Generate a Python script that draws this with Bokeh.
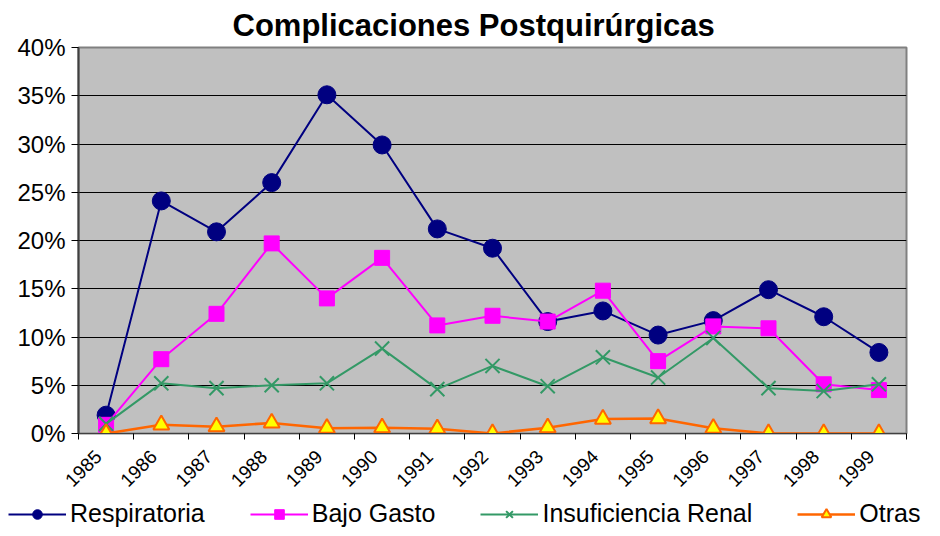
import math
from bokeh.plotting import figure
from bokeh.layouts import column
from bokeh.models import (Range1d, FixedTicker, PrintfTickFormatter, Legend, LegendItem, Title,
                          CustomJSTickFormatter)
from bokeh.embed import file_html
from bokeh.resources import INLINE

years = list(range(1985, 2000))
respiratoria = [1.9, 24.1, 20.9, 26.0, 35.1, 29.9, 21.2, 19.2, 11.6, 12.7, 10.2, 11.7, 14.9, 12.1, 8.4]
bajo_gasto = [0.9, 7.7, 12.4, 19.7, 14.0, 18.2, 11.2, 12.2, 11.6, 14.8, 7.5, 11.1, 10.9, 5.1, 4.5]
insuf_renal = [1.0, 5.2, 4.7, 5.0, 5.2, 8.8, 4.6, 7.0, 4.9, 7.9, 5.8, 9.9, 4.7, 4.4, 5.1]
otras = [0.0, 0.9, 0.7, 1.1, 0.55, 0.6, 0.5, 0.0, 0.6, 1.5, 1.55, 0.55, 0.0, 0.0, 0.0]
y_ticks = [0, 5, 10, 15, 20, 25, 30, 35, 40]
series_names = ["Respiratoria", "Bajo Gasto", "Insuficiencia Renal", "Otras"]

FONT = "Liberation Sans"

styles = [
    dict(line_color="#000080", line_width=2, marker="circle", size=18,
         fill_color="#000080", mline="#000080", mwidth=1),
    dict(line_color="#FF00FF", line_width=2, marker="square", size=15,
         fill_color="#FF00FF", mline="#FF00FF", mwidth=1),
    dict(line_color="#339966", line_width=2, marker="x", size=20,
         fill_color=None, mline="#339966", mwidth=2),
    dict(line_color="#FF6600", line_width=2.5, marker="triangle", size=16,
         fill_color="#FFFF00", mline="#FF6600", mwidth=2),
]
all_series = [respiratoria, bajo_gasto, insuf_renal, otras]

p = figure(width=924, height=495, output_backend="svg", toolbar_location=None,
           x_range=Range1d(years[0] - 0.5, years[-1] + 0.5), y_range=Range1d(0, 40),
           min_border_left=78, min_border_right=18, min_border_top=42, min_border_bottom=62)
p.frame_align = False

p.title = Title(text="Complicaciones Postquirúrgicas", align="left", offset=154,
                text_font=FONT, text_font_size="31px", text_font_style="bold",
                text_color="black", standoff=10)

p.background_fill_color = "#C0C0C0"
p.border_fill_color = "white"
p.outline_line_color = "#808080"
p.outline_line_width = 2

p.xgrid.grid_line_color = None
p.ygrid.grid_line_color = "black"
p.ygrid.grid_line_width = 1

# y axis
p.yaxis.ticker = FixedTicker(ticks=y_ticks)
p.yaxis.formatter = PrintfTickFormatter(format="%d%%")
p.yaxis.major_label_text_font = FONT
p.yaxis.major_label_text_font_size = "24px"
p.yaxis.major_label_text_color = "black"
p.yaxis.axis_line_color = "#404040"
p.yaxis.axis_line_width = 2
p.yaxis.major_tick_line_color = "black"
p.yaxis.major_tick_out = 7
p.yaxis.major_tick_in = 0
p.yaxis.minor_tick_line_color = None
p.yaxis.major_label_standoff = 6

# x axis: labels at the year positions (nudged slightly left, like the original), tick marks between years
boundaries = [y - 0.5 for y in years] + [years[-1] + 0.5]
p.xaxis.ticker = FixedTicker(ticks=[y - 0.14 for y in years], minor_ticks=boundaries)
p.xaxis.formatter = CustomJSTickFormatter(code="return String(Math.round(tick));")
p.xaxis.major_label_orientation = math.pi / 4
p.xaxis.major_label_text_font = FONT
p.xaxis.major_label_text_font_size = "19px"
p.xaxis.major_label_text_color = "black"
p.xaxis.major_tick_line_color = None
p.xaxis.minor_tick_line_color = "black"
p.xaxis.minor_tick_out = 6
p.xaxis.minor_tick_in = 0
p.xaxis.axis_line_color = "#404040"
p.xaxis.axis_line_width = 1
p.xaxis.major_label_standoff = 14

for vals, st in zip(all_series, styles):
    p.line(years, vals, line_color=st["line_color"], line_width=st["line_width"])
    p.scatter(years, vals, marker=st["marker"], size=st["size"], fill_color=st["fill_color"],
              line_color=st["mline"], line_width=st["mwidth"])

# legend strip (separate figure, same styles, no visible data)
lg = figure(width=924, height=40, output_backend="svg", toolbar_location=None,
            x_range=Range1d(0, 1), y_range=Range1d(0, 1),
            min_border=0, min_border_left=0, min_border_right=0,
            min_border_top=0, min_border_bottom=0, margin=(-7, 0, -8, 0))
lg.frame_align = False
lg.axis.visible = False
lg.grid.visible = False
lg.outline_line_color = None
lg.background_fill_alpha = 0
lg.border_fill_alpha = 0

items = []
for name, st in zip(series_names, styles):
    r1 = lg.line([float("nan")], [float("nan")], line_color=st["line_color"], line_width=st["line_width"])
    r2 = lg.scatter([float("nan")], [float("nan")], marker=st["marker"], size=st["size"] - 2,
                    fill_color=st["fill_color"], line_color=st["mline"], line_width=st["mwidth"])
    items.append(LegendItem(label=name, renderers=[r1, r2]))

legend = Legend(items=items, orientation="horizontal", location=(8, 0),
                label_text_font=FONT, label_text_font_size="25px", label_text_color="black",
                glyph_width=58, glyph_height=24, label_standoff=4, spacing=45,
                padding=0, margin=0, border_line_color=None, background_fill_alpha=0)
lg.add_layout(legend, "center")

layout = column(p, lg, spacing=0)
open("out.html", "w").write(file_html(layout, INLINE))
